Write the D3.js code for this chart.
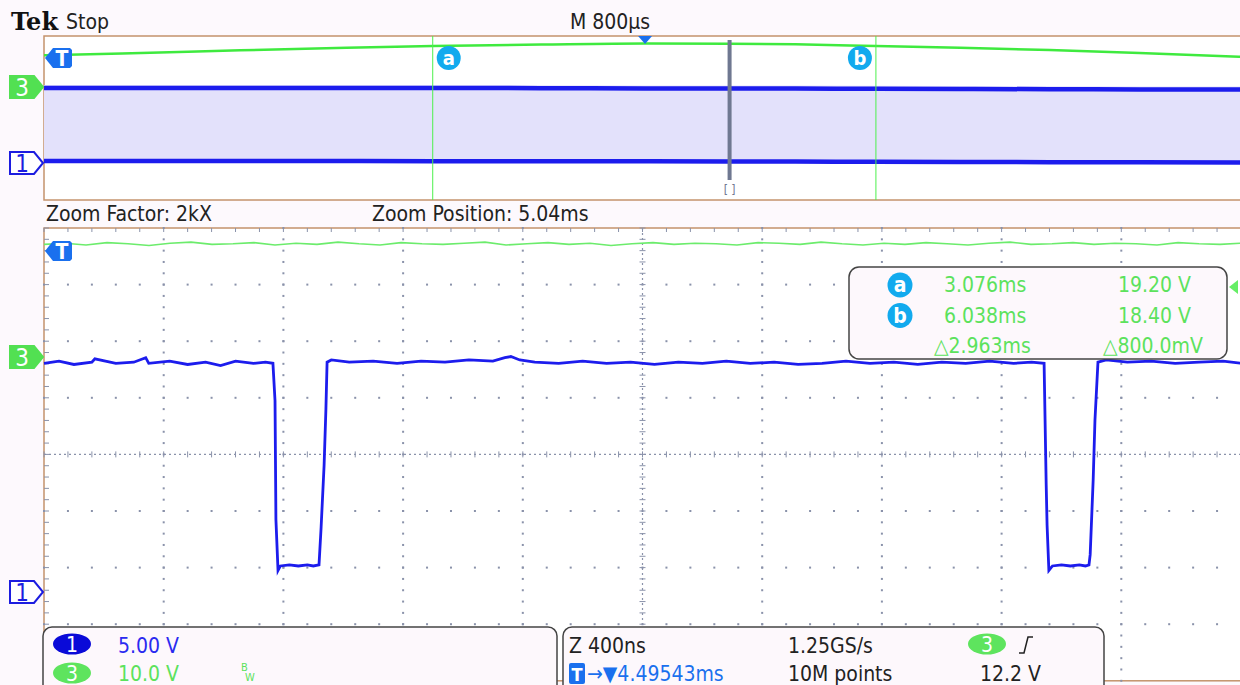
<!DOCTYPE html>
<html>
<head>
<meta charset="utf-8">
<script src="https://cdn.jsdelivr.net/npm/d3@7"></script>
<style>
  body { margin: 0; background: #fdf9fd; }
  svg { display: block; }
</style>
</head>
<body>
<svg id="scope"></svg>
<script>
// Valeurs lues sur la capture
// fenêtre principale (zoom) : temps en µs autour de la position du zoom
const mainTime = [-2.0, -1.95, -1.9, -1.84, -1.83, -1.76, -1.7, -1.66, -1.65, -1.58, -1.52, -1.46, -1.41, -1.36, -1.3, -1.26, -1.235,
  -1.228, -1.225, -1.218, -1.21, -1.18, -1.15, -1.12, -1.1, -1.081,
  -1.074, -1.064, -1.058, -1.054, -1.04, -0.98, -0.9, -0.82, -0.74, -0.66, -0.58, -0.5, -0.46, -0.44, -0.41, -0.36, -0.28, -0.2,
  -0.12, -0.04, 0.04, 0.12, 0.2, 0.28, 0.36, 0.44, 0.52, 0.6, 0.68, 0.76, 0.84, 0.92, 1.0, 1.08, 1.16, 1.24, 1.3, 1.342,
  1.349, 1.352, 1.358, 1.37, 1.4, 1.43, 1.46, 1.48, 1.492,
  1.496, 1.506, 1.512, 1.522, 1.55, 1.62, 1.7, 1.78, 1.86, 1.94, 2.0];
const ch1Volts = [20.2, 20.4, 20.1, 20.3, 20.6, 20.2, 20.3, 20.7, 20.2, 20.4, 20.1, 20.3, 20.0, 20.4, 20.2, 20.3, 20.2,
  16.9, 6.4, 1.9, 2.3, 2.4, 2.3, 2.4, 2.3, 2.4,
  5.7, 11.2, 16.1, 20.3, 20.5, 20.3, 20.4, 20.2, 20.4, 20.3, 20.5, 20.4, 20.7, 20.8, 20.5, 20.3, 20.2, 20.4,
  20.2, 20.3, 20.1, 20.3, 20.2, 20.4, 20.2, 20.3, 20.1, 20.2, 20.4, 20.2, 20.3, 20.1, 20.3, 20.2, 20.4, 20.2, 20.3, 20.2,
  9.5, 5.9, 1.9, 2.3, 2.4, 2.3, 2.4, 2.3, 2.4,
  3.3, 9.9, 15.2, 20.3, 20.5, 20.3, 20.4, 20.2, 20.3, 20.4, 20.2];
const ch3Volts = [19.9, 20.1, 19.8, 20.2, 20.0, 19.7, 20.1, 20.3, 19.9, 20.0, 20.2, 19.8, 20.1, 19.9, 20.3, 20.0, 19.8, 20.2,
  20.0, 19.9, 20.1, 20.3, 19.8, 20.0, 20.2, 19.9, 20.1, 19.7, 20.0, 20.2, 19.9, 20.1, 20.0, 19.8, 20.2, 20.1, 19.9, 20.3,
  20.0, 19.8, 20.1, 19.9, 20.2, 20.0, 19.8, 20.1, 20.3, 19.9, 20.0, 20.2, 19.9, 20.1, 20.0, 19.8, 20.2, 20.0, 19.9, 20.1];

// vue d'ensemble : temps en ms
const overTime = [0.478, 1.0, 1.79, 2.5, 3.076, 3.8, 4.495, 5.06, 5.5, 6.038, 6.6, 7.2, 7.8, 8.478];
const overCh3 = [15.5, 16.3, 17.9, 19.2, 20.0, 20.7, 21.2, 21.1, 20.8, 20.0, 19.2, 18.0, 16.6, 14.7];
const overCh1Top = [18.3, 18.3, 18.3, 18.3, 18.3, 18.25, 18.2, 18.2, 18.15, 18.1, 18.05, 18.0, 17.95, 17.9];
const overCh1Bottom = [0.5, 0.5, 0.48, 0.46, 0.45, 0.42, 0.4, 0.38, 0.34, 0.3, 0.25, 0.2, 0.17, 0.15];

const cursorTimes = [3.076, 6.038];
const cursorNames = ["a", "b"];
const readoutRows = [["a", "3.076ms", "19.20 V"], ["b", "6.038ms", "18.40 V"], ["", "\u25B32.963ms", "\u25B3800.0mV"]];
const triggerTime = 4.495;
const zoomTime = 5.06;

const width = 1240, height = 685;
const svg = d3.select("#scope").attr("width", width).attr("height", height)
  .style("font-family", "'DejaVu Sans Condensed', 'DejaVu Sans', sans-serif");

const left = 44, divW = 119.7;
const topY = 36, topDiv = 20.5;
const mainY = 228, mainDiv = 56.6;

const xMain = d3.scaleLinear().domain([-2, 2]).range([left, left + 10 * divW]);
const xOver = d3.scaleLinear().domain([0.478, 8.478]).range([left, left + 10 * divW]);
const yOver3 = d3.scaleLinear().domain([0, 10]).range([87, 87 - topDiv]);
const yOver1 = d3.scaleLinear().domain([0, 5]).range([163, 163 - topDiv]);
const yMain1 = d3.scaleLinear().domain([0, 5]).range([592, 592 - mainDiv]);
const yMain3 = d3.scaleLinear().domain([0, 10]).range([357, 357 - mainDiv]);

const brown = "#c4936c", gridCol = "#8a92aa";
const blue = "#1c1ced", green = "#3fea3f", cyan = "#12aaee", tblue = "#1a70ee";
const txtGreen = "#5ce25c";

// ---- panneau du haut (vue d'ensemble)
svg.append("rect").attr("x", left).attr("y", topY).attr("width", 10 * divW).attr("height", 8 * topDiv)
  .attr("fill", "#ffffff").attr("stroke", brown).attr("stroke-width", 1.5);

const idx = d3.range(overTime.length);
svg.append("path")
  .attr("d", d3.area().x(i => xOver(overTime[i])).y0(i => yOver1(overCh1Bottom[i])).y1(i => yOver1(overCh1Top[i]) - 3)(idx))
  .attr("fill", "#e3e1fb");
[overCh1Top, overCh1Bottom].forEach(arr => {
  svg.append("path")
    .attr("d", d3.line().x(i => xOver(overTime[i])).y(i => yOver1(arr[i])).curve(d3.curveMonotoneX)(idx))
    .attr("fill", "none").attr("stroke", blue).attr("stroke-width", 4.5);
});
svg.append("path")
  .attr("d", d3.line().x(i => xOver(overTime[i])).y(i => yOver3(overCh3[i])).curve(d3.curveMonotoneX)(idx))
  .attr("fill", "none").attr("stroke", green).attr("stroke-width", 2.5);

// curseurs a / b
cursorTimes.forEach((t, k) => {
  const cx = xOver(t);
  svg.append("line").attr("x1", cx).attr("x2", cx).attr("y1", topY).attr("y2", topY + 8 * topDiv)
    .attr("stroke", "#4cf04c").attr("stroke-width", 1);
  const bx = k === 0 ? cx + 16 : cx - 16;
  svg.append("circle").attr("cx", bx).attr("cy", 58).attr("r", 12).attr("fill", cyan);
  svg.append("text").attr("x", bx).attr("y", 65).attr("text-anchor", "middle")
    .attr("font-size", 20).attr("font-weight", "bold").attr("fill", "#fff").text(cursorNames[k]);
});

// barre de position du zoom
svg.append("rect").attr("x", xOver(zoomTime) - 2).attr("y", 40).attr("width", 4).attr("height", 140).attr("fill", "#6f7891");
svg.append("text").attr("x", xOver(zoomTime)).attr("y", 194).attr("text-anchor", "middle")
  .attr("font-size", 12).attr("fill", "#6f7891").text("[ ]");

// marqueur de déclenchement
const tx = xOver(triggerTime);
svg.append("path").attr("d", `M${tx - 7},${topY} L${tx + 7},${topY} L${tx},${topY + 8}Z`).attr("fill", tblue);

// ---- panneau principal
svg.append("rect").attr("x", left).attr("y", mainY).attr("width", 10 * divW).attr("height", 8 * mainDiv)
  .attr("fill", "#ffffff").attr("stroke", brown).attr("stroke-width", 1.5);

const grid = svg.append("g");
for (let i = 1; i < 10; i++) {
  if (i === 5) continue;
  d3.range(0, 41).forEach(k => {
    grid.append("rect").attr("x", left + i * divW - 1).attr("y", mainY + k * mainDiv / 5 - 1)
      .attr("width", 2).attr("height", 2).attr("fill", gridCol);
  });
}
for (let j = 1; j < 8; j++) {
  if (j === 4) continue;
  d3.range(0, 51).forEach(k => {
    grid.append("rect").attr("x", left + k * divW / 5 - 1).attr("y", mainY + j * mainDiv - 1)
      .attr("width", 2).attr("height", 2).attr("fill", gridCol);
  });
}
// croix centrale
const cxm = left + 5 * divW, cym = mainY + 4 * mainDiv;
grid.append("line").attr("x1", cxm).attr("x2", cxm).attr("y1", mainY).attr("y2", mainY + 8 * mainDiv)
  .attr("stroke", gridCol).attr("stroke-width", 1.2).attr("stroke-dasharray", "2,3");
grid.append("line").attr("x1", left).attr("x2", left + 10 * divW).attr("y1", cym).attr("y2", cym)
  .attr("stroke", gridCol).attr("stroke-width", 1.2).attr("stroke-dasharray", "2,3");
d3.range(0, 51).forEach(k => {
  const xx = left + k * divW / 5;
  grid.append("line").attr("x1", xx).attr("x2", xx).attr("y1", cym - 3).attr("y2", cym + 3).attr("stroke", gridCol);
  grid.append("line").attr("x1", xx).attr("x2", xx).attr("y1", mainY).attr("y2", mainY + 4).attr("stroke", gridCol);
});
d3.range(0, 41).forEach(k => {
  const yy = mainY + k * mainDiv / 5;
  grid.append("line").attr("x1", cxm - 3).attr("x2", cxm + 3).attr("y1", yy).attr("y2", yy).attr("stroke", gridCol);
  grid.append("line").attr("x1", left).attr("x2", left + 5).attr("y1", yy).attr("y2", yy).attr("stroke", gridCol);
});

// traces
const gi = d3.range(ch3Volts.length);
const xg = d3.scaleLinear().domain([0, ch3Volts.length - 1]).range([-2, 2]);
svg.append("path")
  .attr("d", d3.line().x(i => xMain(xg(i))).y(i => yMain3(ch3Volts[i]))(gi))
  .attr("fill", "none").attr("stroke", "#6cec6c").attr("stroke-width", 1.6);
const bi = d3.range(mainTime.length);
svg.append("path")
  .attr("d", d3.line().x(i => xMain(mainTime[i])).y(i => yMain1(ch1Volts[i]))(bi))
  .attr("fill", "none").attr("stroke", blue).attr("stroke-width", 2.8);

// niveau de déclenchement (flèche verte à droite)
svg.append("path").attr("d", "M1229,287 L1238,280 L1238,294Z").attr("fill", "#66ee66");

// ---- marqueurs de voies à gauche
function chanBadge(y, label, filled) {
  const g = svg.append("g");
  g.append("path")
    .attr("d", `M10,${y - 11} L34,${y - 11} L43,${y} L34,${y + 11} L10,${y + 11}Z`)
    .attr("fill", filled ? "#52e052" : "#ffffff").attr("stroke", filled ? "#52e052" : "#1c1ce0").attr("stroke-width", 2);
  g.append("text").attr("x", 22).attr("y", y + 9).attr("text-anchor", "middle").attr("font-size", 24)
    .attr("fill", filled ? "#fff" : "#1c1ce0").text(label);
}
chanBadge(yOver3(0), "3", true);
chanBadge(yOver1(0), "1", false);
chanBadge(yMain3(0), "3", true);
chanBadge(yMain1(0), "1", false);

function trigBadge(y) {
  svg.append("path").attr("d", `M45,${y} L53,${y - 10} L70,${y - 10} L72,${y - 8} L72,${y + 8} L70,${y + 10} L53,${y + 10}Z`)
    .attr("fill", tblue);
  svg.append("text").attr("x", 62).attr("y", y + 8).attr("text-anchor", "middle").attr("font-size", 21)
    .attr("font-weight", "bold").attr("fill", "#fff").text("T");
}
trigBadge(58);
trigBadge(251);

// ---- textes d'en-tête
svg.append("text").attr("x", 11).attr("y", 30).style("font-family", "'DejaVu Serif', serif").attr("font-weight", "bold")
  .attr("font-size", 24).attr("fill", "#111").text("Tek");
svg.append("text").attr("x", 66).attr("y", 29).attr("font-size", 21).attr("fill", "#222").text("Stop");
svg.append("text").attr("x", 570).attr("y", 29).attr("font-size", 21).attr("fill", "#222").text("M 800\u00B5s");
svg.append("text").attr("x", 46).attr("y", 221).attr("font-size", 21).attr("fill", "#222").text("Zoom Factor: 2kX");
svg.append("text").attr("x", 372).attr("y", 221).attr("font-size", 21).attr("fill", "#222").text("Zoom Position: 5.04ms");

// ---- cadre des curseurs
svg.append("rect").attr("x", 849).attr("y", 267).attr("width", 378).attr("height", 92).attr("rx", 10)
  .attr("fill", "#fdf8fc").attr("stroke", "#444").attr("stroke-width", 1.5);
const rowX = [[944, 1118], [944, 1118], [934, 1103]];
readoutRows.forEach((r, k) => {
  const y = 292 + k * 30.5;
  if (r[0]) {
    svg.append("circle").attr("cx", 900).attr("cy", y - 7).attr("r", 12.5).attr("fill", cyan);
    svg.append("text").attr("x", 900).attr("y", y).attr("text-anchor", "middle").attr("font-size", 21)
      .attr("font-weight", "bold").attr("fill", "#fff").text(r[0]);
  }
  svg.append("text").attr("x", rowX[k][0]).attr("y", y).attr("font-size", 21).attr("fill", txtGreen).text(r[1]);
  svg.append("text").attr("x", rowX[k][1]).attr("y", y).attr("font-size", 21).attr("fill", txtGreen).text(r[2]);
});

// ---- cadres du bas
svg.append("rect").attr("x", 43).attr("y", 627).attr("width", 514).attr("height", 75).attr("rx", 9)
  .attr("fill", "#fdf8fc").attr("stroke", "#444").attr("stroke-width", 1.5);
svg.append("rect").attr("x", 563).attr("y", 627).attr("width", 541).attr("height", 75).attr("rx", 9)
  .attr("fill", "#fdf8fc").attr("stroke", "#444").attr("stroke-width", 1.5);

svg.append("ellipse").attr("cx", 72).attr("cy", 644).attr("rx", 19).attr("ry", 10.5).attr("fill", "#0a0ad8");
svg.append("text").attr("x", 72).attr("y", 652).attr("text-anchor", "middle").attr("font-size", 21).attr("fill", "#fff").text("1");
svg.append("text").attr("x", 118).attr("y", 653).attr("font-size", 21).attr("fill", "#2a2af0").text("5.00 V");
svg.append("ellipse").attr("cx", 72).attr("cy", 673).attr("rx", 19).attr("ry", 10.5).attr("fill", "#5ee45e");
svg.append("text").attr("x", 72).attr("y", 681).attr("text-anchor", "middle").attr("font-size", 21).attr("fill", "#fff").text("3");
svg.append("text").attr("x", 118).attr("y", 681).attr("font-size", 21).attr("fill", txtGreen).text("10.0 V");
svg.append("text").attr("x", 241).attr("y", 671).attr("font-size", 11).attr("fill", txtGreen).text("B");
svg.append("text").attr("x", 245).attr("y", 681).attr("font-size", 11).attr("fill", txtGreen).text("W");

svg.append("text").attr("x", 569).attr("y", 653).attr("font-size", 21).attr("fill", "#222").text("Z 400ns");
svg.append("text").attr("x", 788).attr("y", 653).attr("font-size", 21).attr("fill", "#222").text("1.25GS/s");
svg.append("ellipse").attr("cx", 987).attr("cy", 644).attr("rx", 19).attr("ry", 10.5).attr("fill", "#5ee45e");
svg.append("text").attr("x", 987).attr("y", 652).attr("text-anchor", "middle").attr("font-size", 21).attr("fill", "#fff").text("3");
svg.append("path").attr("d", "M1019,653 L1024,653 L1028,637 L1033,637").attr("fill", "none").attr("stroke", "#222").attr("stroke-width", 1.5);
svg.append("rect").attr("x", 569).attr("y", 663).attr("width", 16).attr("height", 21).attr("rx", 2).attr("fill", tblue);
svg.append("text").attr("x", 577).attr("y", 681).attr("text-anchor", "middle").attr("font-size", 18)
  .attr("font-weight", "bold").attr("fill", "#fff").text("T");
svg.append("text").attr("x", 587).attr("y", 681).attr("font-size", 21).attr("fill", tblue).text("\u2192\u25BC4.49543ms");
svg.append("text").attr("x", 788).attr("y", 681).attr("font-size", 21).attr("fill", "#222").text("10M points");
svg.append("text").attr("x", 980).attr("y", 681).attr("font-size", 21).attr("fill", "#222").text("12.2 V");
</script>
</body>
</html>
